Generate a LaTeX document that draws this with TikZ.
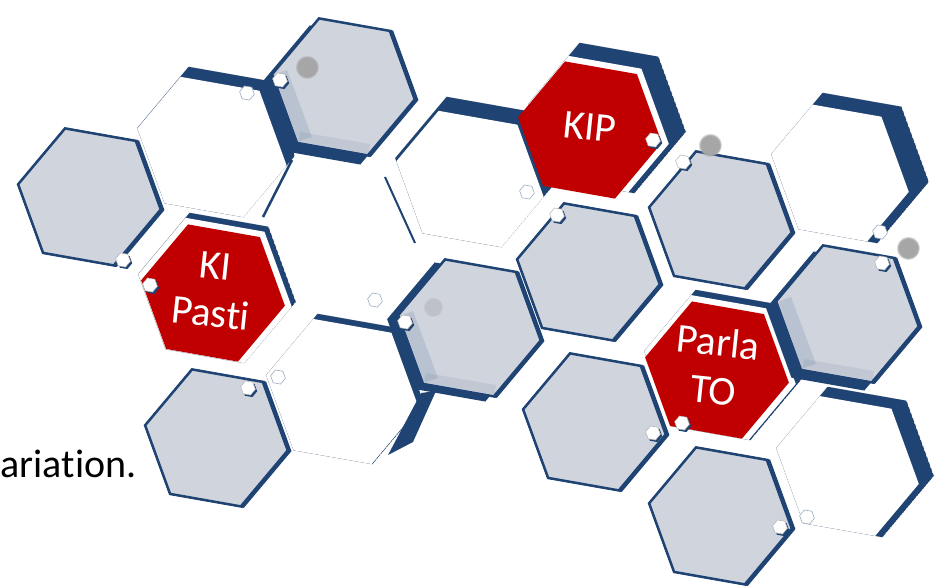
\documentclass[tikz,border=0pt]{standalone}
\usepackage{fontspec}
\setmainfont[Ligatures={NoCommon,NoContextual}]{Carlito}
\usetikzlibrary{fadings}

\definecolor{hexblue}{HTML}{1F4373}
\definecolor{hexgrey}{HTML}{CFD4DD}
\definecolor{hexred}{HTML}{C00000}
\definecolor{rimgrey}{HTML}{D4D4D4}

% hexagon with pointed left/right corners, tilted by 10 degrees
\newcommand{\hexagon}[1]{(10:#1) -- (70:#1) -- (130:#1) -- (190:#1) -- (250:#1) -- (310:#1) -- cycle}

\tikzset{
  % open cell: floor at the pic origin, rim shifted by #1/#2
  pics/hole/.style args={#1/#2}{code={
    \draw[rimgrey, line width=.6pt, shift={(#1,#2)}] \hexagon{80};
    \begin{scope}
      \clip[shift={(#1,#2)}] \hexagon{80};
      \fill[hexblue, shift={(#1,#2)}] \hexagon{80};
      \fill[white] \hexagon{80};
    \end{scope}
  }},
  pics/redhole/.style args={#1/#2}{code={
    \pic {hole=#1/#2};
    \fill[hexred] \hexagon{73};
  }},
  % grey cell, #1/#2 = offset of its dark side
  pics/slab/.style args={#1/#2}{code={
    \fill[hexblue, shift={(#1,#2)}] \hexagon{74};
    \filldraw[fill=hexgrey, draw=hexblue, line width=2.5pt] \hexagon{73};
    \draw[hexblue, line width=4.5pt] (310:73) -- (10:73) -- (70:73);
  }},
  pics/raised/.style args={#1/#2}{code={
    \pic {slab=#1/#2};
    \fill[hexblue, opacity=.12] (190:71) -- (130:71) -- (-32,50) -- (-57,-17) -- cycle;
    \fill[hexblue, opacity=.08] (130:71) -- (70:71) -- (26,57) -- (-44,45) -- cycle;
  }},
  pics/bolt/.style={code={
    \filldraw[fill=white, draw=hexblue!45, line width=.6pt] \hexagon{7.5};
  }},
  pics/boltup/.style={code={
    \fill[hexblue, shift={(1.8,2)}] \hexagon{7.5};
    \filldraw[fill=white, draw=gray!60, line width=.5pt] \hexagon{7.5};
  }},
  celltext/.style={text=white, align=center, rotate=-6, font=\fontsize{41}{48}\selectfont},
  smudge/.style={black!35, path fading=circle with fuzzy edge 20 percent},
}

\begin{document}
\begin{tikzpicture}[x=1pt, y=-1pt]
  \useasboundingbox (0,0) rectangle (935,587);

  % open cells
  \pic at (208,152) {hole=8/-10};
  \pic at (340,394) {hole=5/-5};
  \pic at (466,186) {hole=8/-14};
  \pic at (830,178) {hole=20/-10};
  \pic at (840,470) {hole=15/-8};

  % red cells
  \pic at (213,293) {redhole=4/-5};
  \pic at (590,130) {redhole=17/-12};
  \pic at (717,370) {redhole=6/-5};

  % seams between the open cells
  \draw[hexblue, line width=2.5pt] (292,160) -- (263,217);
  \draw[hexblue, line width=2pt] (385,177) -- (415,243);
  \fill[hexblue] (436,391) -- (413,442) -- (388,455) -- (421,393) -- cycle;

  % grey cells
  \foreach \x/\y in {90/197, 217/438, 589/272, 595/422, 721/220, 721/516}
    {\pic at (\x,\y) {slab=0/0};}
  \foreach \x/\y/\dx/\dy in {344/87/-9/8, 470/328/-10/4, 848/314/-9/7}
    {\pic at (\x,\y) {raised=\dx/\dy};}

  % shadows
  \fill[smudge] (307,67) circle (12);
  \fill[smudge] (710,145) circle (12);
  \fill[smudge] (908,248) circle (12);
  \fill[smudge, opacity=.4] (433,307) circle (10);

  % small bolts
  \foreach \x/\y in {247/93, 375/300, 278/377, 527/192, 880/232, 807/517}
    {\pic at (\x,\y) {bolt};}
  \foreach \x/\y in {280/80, 123/260, 150/285, 405/322, 248/388, 557/215,
                     653/140, 683/162, 882/263, 653/433, 682/423, 780/527}
    {\pic at (\x,\y) {boltup};}

  \node[celltext] (kipasti) at (213,290) {KI\\Pasti};
  \node[celltext] (kip) at (590,127) {KIP};
  \node[celltext] (parlato) at (716,366) {Parla\\TO};

  \node[anchor=base east, font=\fontsize{40}{48}\selectfont] (variation) at (140,477) {ariation.};
\end{tikzpicture}
\end{document}
